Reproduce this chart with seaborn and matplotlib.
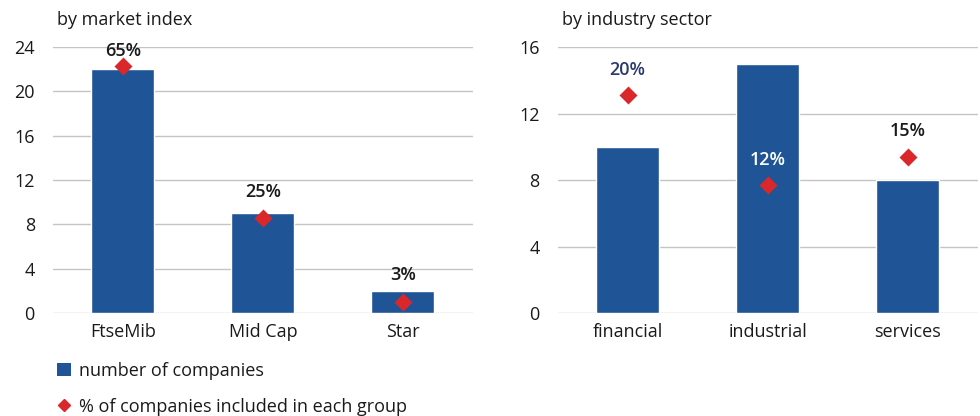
import matplotlib
matplotlib.use("Agg")
import matplotlib.pyplot as plt
import seaborn as sns
from matplotlib.lines import Line2D
from matplotlib.patches import Patch

# data
index_groups = ["FtseMib", "Mid Cap", "Star"]
index_companies = [22, 9, 2]
index_pct = [65, 25, 3]

sector_groups = ["financial", "industrial", "services"]
sector_companies = [10, 15, 8]
sector_pct = [20.4, 12.0, 14.6]

bar_color = "#1f5597"
dot_color = "#d9272a"
grid_color = "#c4c4c4"
text_color = "#1a1a1a"

sns.set_style("white")
plt.rcParams["font.family"] = ["Open Sans", "DejaVu Sans"]
plt.rcParams["font.size"] = 13

fig = plt.figure(figsize=(9.8, 4.16), dpi=100)


def draw_panel(rect, cats, counts, pct, ymax, ystep, pmax, title, label_colors, label_offsets):
    ax = fig.add_axes(rect)
    sns.barplot(x=cats, y=counts, color=bar_color, width=0.45, saturation=1, ax=ax)
    ax.set_ylim(0, ymax)
    ax.set_yticks(range(0, ymax + 1, ystep))
    ax.grid(axis="y", color=grid_color, linewidth=1)
    ax.set_axisbelow(True)
    for s in ["top", "right", "left", "bottom"]:
        ax.spines[s].set_visible(False)
    ax.tick_params(axis="y", length=0, pad=13, labelsize=13, colors=text_color)
    ax.tick_params(axis="x", length=0, pad=7, labelsize=13, colors=text_color)
    ax.set_xlabel("")
    ax.set_ylabel("")
    ax.text(0.01, 1.07, title, transform=ax.transAxes, fontsize=13,
            color=text_color, ha="left", va="bottom")

    ax2 = ax.twinx()
    sns.pointplot(x=cats, y=pct, color=dot_color, markers="D", linestyle="none",
                  markersize=7, ax=ax2)
    ax2.set_ylim(0, pmax)
    ax2.set_yticks([])
    ax2.set_ylabel("")
    for s in ["top", "right", "left", "bottom"]:
        ax2.spines[s].set_visible(False)
    for i, v in enumerate(pct):
        ax2.annotate(f"{round(v)}%", (i, v), xytext=(0, label_offsets[i]),
                     textcoords="offset points", ha="center", va="center",
                     fontsize=13, fontweight="semibold", color=label_colors[i])
    return ax


draw_panel([0.054, 0.2476, 0.4286, 0.639], index_groups, index_companies, index_pct,
           24, 4, 70, "by market index", [text_color] * 3, [11, 19, 19])
draw_panel([0.569, 0.2476, 0.4286, 0.639], sector_groups, sector_companies, sector_pct,
           16, 4, 24.9, "by industry sector", ["#2c3b6e", "white", text_color], [18, 18, 19])

handles = [
    Patch(facecolor=bar_color, edgecolor="none", label="number of companies"),
    Line2D([], [], marker="D", color=dot_color, linestyle="none", markersize=6,
           label="% of companies included in each group"),
]
fig.legend(handles=handles, loc="upper left", bbox_to_anchor=(0.058, 0.131),
           frameon=False, fontsize=13, labelspacing=1.0, handlelength=0.8,
           handletextpad=0.4, borderaxespad=0, borderpad=0, labelcolor=text_color)

fig.savefig("out.png", dpi=100)
